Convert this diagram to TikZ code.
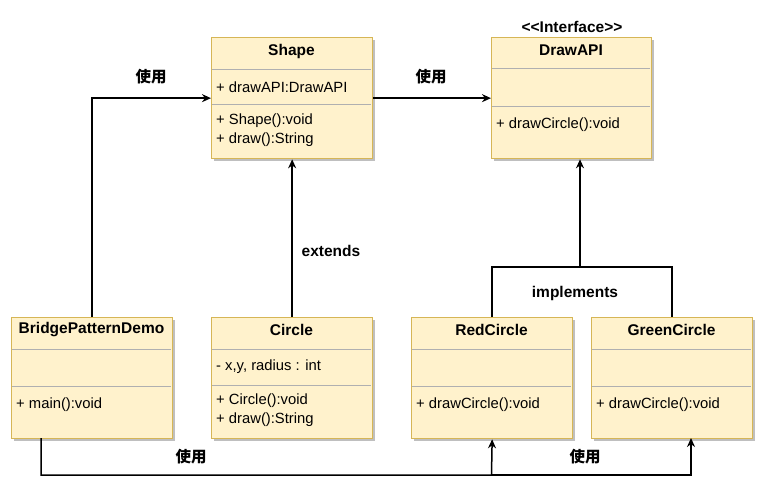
\documentclass[tikz,border=0pt]{standalone}
\usepackage{fontspec}
\setmainfont{Liberation Sans}
\newfontfamily\cjkfont{Noto Sans CJK SC}
\usetikzlibrary{arrows.meta,shadows}
\definecolor{boxfill}{HTML}{FFF2CC}
\definecolor{boxline}{HTML}{D6B656}
\definecolor{divline}{HTML}{B0B0B0}
\begin{document}
\begin{tikzpicture}[x=1pt,y=-1pt,
  umlbox/.style={draw=boxline, fill=boxfill, line width=1.3pt, inner sep=0pt,
    anchor=north west, minimum width=161pt, minimum height=121pt,
    drop shadow={shadow xshift=2pt, shadow yshift=-2pt, opacity=0.25, fill=black}},
  divider/.style={draw=divline, line width=0.9pt},
  classtitle/.style={font=\fontsize{15.5}{18}\selectfont\bfseries, inner sep=0pt},
  member/.style={font=\fontsize{14.8}{18}\selectfont, anchor=west, inner sep=0pt},
  wire/.style={draw=black, line width=1.5pt},
  conn/.style={wire, -{Stealth[length=9pt,width=8pt]}},
  cnlabel/.style={font=\cjkfont\fontsize{15.5}{18}\selectfont\bfseries, inner sep=0pt},
  enlabel/.style={font=\fontsize{15.5}{18}\selectfont\bfseries, inner sep=0pt}]
\useasboundingbox[fill=white] (0,0) rectangle (760,489);

% class boxes
\node[umlbox] (shape)   at (211,37)  {};
\node[umlbox, minimum width=160pt] (drawapi) at (491,37)  {};
\node[umlbox] (bpd)     at (11,317)  {};
\node[umlbox] (circle)  at (211,317) {};
\node[umlbox] (red)     at (411,317) {};
\node[umlbox] (green)   at (591,317) {};

% compartments
\draw[divider] (212,69) -- (371,69);  \draw[divider] (212,104) -- (371,104);
\draw[divider] (492,68) -- (650,68);  \draw[divider] (492,106) -- (650,106);
\draw[divider] (12,349) -- (171,349); \draw[divider] (12,386) -- (171,386);
\draw[divider] (212,349) -- (371,349);\draw[divider] (212,385) -- (371,385);
\draw[divider] (412,349) -- (571,349);\draw[divider] (412,386) -- (571,386);
\draw[divider] (592,349) -- (751,349);\draw[divider] (592,386) -- (751,386);

% Shape
\node[classtitle] (shapet) at (291.5,51) {Shape};
\node[member] (shapea) at (216,87) {+ drawAPI:DrawAPI};
\node[member] (shapem1) at (216,121) {+ Shape():void};
\node[member] (shapem2) at (216,140) {+ draw():String};

% DrawAPI
\node[classtitle] (stereo) at (572,27) {<{}<Interface>{}>};
\node[classtitle] (drawapit) at (571,50) {DrawAPI};
\node[member] (drawapim) at (496,125) {+ drawCircle():void};

% BridgePatternDemo
\node[classtitle] (bpdt) at (91.5,330) {BridgePatternDemo};
\node[member] (bpdm) at (16,405) {+ main():void};

% Circle
\node[classtitle] (circlet) at (291.5,330) {Circle};
\node[member] (circlea) at (216,367) {- x,y, radius : int};
\node[member] (circlem1) at (216,401) {+ Circle():void};
\node[member] (circlem2) at (216,420) {+ draw():String};

% RedCircle
\node[classtitle] (redt) at (491.5,330) {RedCircle};
\node[member] (redm) at (416,405) {+ drawCircle():void};

% GreenCircle
\node[classtitle] (greent) at (671.5,330) {GreenCircle};
\node[member] (greenm) at (596,405) {+ drawCircle():void};

% connectors
\draw[conn] (bpd.north) |- (shape.west);
\draw[conn] (circle.north) -- (shape.south);
\draw[conn] (shape.east) -- (drawapi.west);

\coordinate (impl) at (580,267);
\draw[wire] (red.north) |- (impl) -| (green.north);
\draw[conn] (impl) -- (impl |- drawapi.south);

\coordinate (bpdout) at (41,438);
\coordinate (busred) at (491.5,475);
\coordinate (greenin) at (691,438);
\draw[conn] (bpdout) |- (busred) -- (red.south);
\draw[conn] (busred) -| (greenin);

% labels
\node[cnlabel] (l1) at (151,77) {使用};
\node[cnlabel] (l2) at (431,77) {使用};
\node[cnlabel] (l3) at (191,457) {使用};
\node[cnlabel] (l4) at (585,457) {使用};
\node[enlabel] (l5) at (331,251) {extends};
\node[enlabel] (l6) at (575,293) {implements};
\end{tikzpicture}
\end{document}
